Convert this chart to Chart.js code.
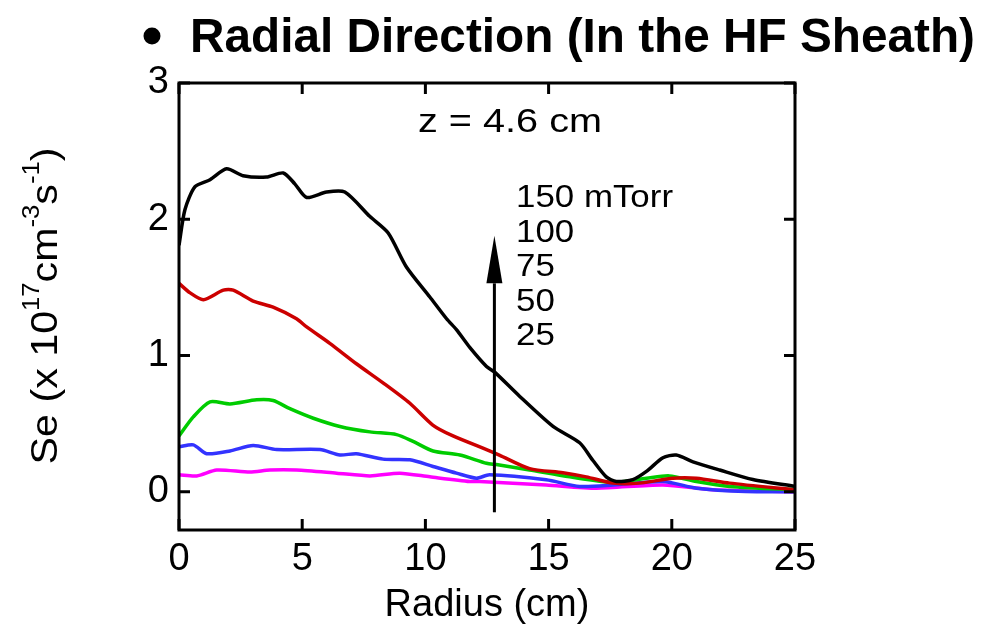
<!DOCTYPE html>
<html>
<head>
<meta charset="utf-8">
<script src="https://cdn.jsdelivr.net/npm/chart.js@4.4.1/dist/chart.umd.min.js"></script>
<style>
  html, body { margin: 0; padding: 0; background: #fff; }
  #wrap { width: 997px; height: 630px; position: relative; }
</style>
</head>
<body>
<div id="wrap"><canvas id="grafico"></canvas></div>
<script>
// radius (cm) and Se (x 1e17 cm^-3 s^-1), one pair per pressure
const r150 = [0, 0.24, 0.65, 1.26, 1.93, 2.6, 3.55, 4.23, 4.7, 5.18, 5.99, 6.73, 7.75, 8.49, 9.23, 10.18, 10.86, 11.26, 11.8, 12.48, 12.8, 13.83, 15.18, 16.26, 16.8, 17.34, 17.75, 18.42, 18.97, 19.64, 20.18, 20.86, 21.94, 23.29, 25];
const se150 = [1.81, 2.07, 2.24, 2.29, 2.37, 2.32, 2.31, 2.34, 2.26, 2.16, 2.20, 2.20, 2.02, 1.90, 1.65, 1.43, 1.27, 1.19, 1.06, 0.92, 0.88, 0.70, 0.48, 0.36, 0.23, 0.11, 0.076, 0.09, 0.15, 0.25, 0.27, 0.22, 0.16, 0.09, 0.04];

const r100 = [0, 0.45, 0.99, 1.8, 2.2, 3.01, 3.82, 4.77, 5.18, 6.12, 7.2, 8.28, 9.37, 10.3, 11.12, 12.48, 13.0, 14.23, 15.58, 16.53, 17.61, 18.69, 20.04, 21.0, 22.34, 25];
const se100 = [1.53, 1.46, 1.41, 1.48, 1.48, 1.40, 1.355, 1.27, 1.21, 1.09, 0.94, 0.80, 0.65, 0.49, 0.41, 0.31, 0.27, 0.17, 0.14, 0.11, 0.064, 0.064, 0.10, 0.10, 0.064, 0.015];

const r75 = [0, 0.58, 1.26, 2.07, 3.15, 3.82, 4.5, 5.45, 6.53, 7.75, 8.83, 9.5, 10.31, 11.4, 12.48, 12.88, 14.23, 15.86, 17.61, 18.97, 19.9, 21.0, 22.34, 24.37, 25];
const se75 = [0.41, 0.55, 0.66, 0.645, 0.675, 0.67, 0.61, 0.54, 0.48, 0.44, 0.42, 0.37, 0.30, 0.27, 0.21, 0.20, 0.16, 0.11, 0.07, 0.10, 0.117, 0.076, 0.04, 0.02, 0.02];

const r50 = [0, 0.58, 1.12, 2.07, 3.01, 3.96, 5.72, 6.53, 7.2, 8.28, 9.37, 10.31, 11.26, 12.07, 12.6, 14.9, 16.26, 17.61, 19.64, 21.0, 23.0, 25];
const se50 = [0.33, 0.345, 0.28, 0.30, 0.34, 0.31, 0.31, 0.27, 0.28, 0.24, 0.235, 0.186, 0.137, 0.10, 0.125, 0.088, 0.04, 0.05, 0.076, 0.027, 0.002, 0];

const r25 = [0, 0.72, 1.53, 2.88, 3.69, 4.77, 6.4, 7.75, 8.96, 10.18, 11.8, 12.2, 14.9, 16.94, 19.64, 21.67, 25];
const se25 = [0.125, 0.117, 0.16, 0.145, 0.16, 0.16, 0.137, 0.117, 0.137, 0.11, 0.076, 0.076, 0.05, 0.027, 0.05, 0.015, 0];

const presiones = ["150 mTorr", "100", "75", "50", "25"];
const xTicks = [0, 5, 10, 15, 20, 25];
const yTicks = [0, 1, 2, 3];

// arrow showing increasing pressure (data coords)
const flechaX = 12.8, flechaDesde = -0.15, flechaHasta = 1.88, flechaBase = 1.53;

function puntos(xs, ys) {
    let out = [];
    for (let i = 0; i < xs.length; i++) out.push({x: xs[i], y: ys[i]});
    return out;
}

function serie(xs, ys, color) {
    return {
        data: puntos(xs, ys),
        borderColor: color,
        borderWidth: 3.5,
        pointRadius: 0,
        tension: 0.25,
        fill: false
    };
}

const fuente = "'Liberation Sans', Arial, sans-serif";

// text stretched horizontally, like the original figure
function textoAncho(ctx, txt, x, y, estirar) {
    ctx.save();
    ctx.translate(x, y);
    ctx.scale(estirar, 1);
    ctx.fillText(txt, 0, 0);
    ctx.restore();
}

const decoracion = {
    id: "decoracion",
    afterDraw(chart) {
        const ctx = chart.ctx;
        const a = chart.chartArea;
        const sx = chart.scales.x, sy = chart.scales.y;
        ctx.save();

        // frame
        ctx.strokeStyle = "#000";
        ctx.lineWidth = 3;
        ctx.strokeRect(a.left, a.top, a.right - a.left, a.bottom - a.top);

        // inner ticks
        const tl = 11;
        ctx.beginPath();
        xTicks.forEach(function (v) {
            let px = sx.getPixelForValue(v);
            ctx.moveTo(px, a.bottom); ctx.lineTo(px, a.bottom - tl);
            ctx.moveTo(px, a.top); ctx.lineTo(px, a.top + tl);
        });
        yTicks.forEach(function (v) {
            let py = sy.getPixelForValue(v);
            ctx.moveTo(a.left, py); ctx.lineTo(a.left + tl, py);
            ctx.moveTo(a.right, py); ctx.lineTo(a.right - tl, py);
        });
        ctx.stroke();

        // arrow
        let ax = sx.getPixelForValue(flechaX);
        let y0 = sy.getPixelForValue(flechaDesde);
        let y1 = sy.getPixelForValue(flechaBase);
        let y2 = sy.getPixelForValue(flechaHasta);
        ctx.lineWidth = 3;
        ctx.beginPath();
        ctx.moveTo(ax, y0); ctx.lineTo(ax, y1);
        ctx.stroke();
        ctx.fillStyle = "#000";
        ctx.beginPath();
        ctx.moveTo(ax - 8, y1); ctx.lineTo(ax + 8, y1); ctx.lineTo(ax, y2);
        ctx.closePath();
        ctx.fill();

        ctx.fillStyle = "#000";
        ctx.textBaseline = "alphabetic";
        ctx.textAlign = "left";

        // z label
        ctx.font = "33px " + fuente;
        let zTxt = "z = 4.6 cm";
        textoAncho(ctx, zTxt, 418, 132, 184 / ctx.measureText(zTxt).width);

        // pressure labels
        ctx.font = "32px " + fuente;
        let k = 157 / ctx.measureText(presiones[0]).width;
        presiones.forEach(function (p, i) {
            textoAncho(ctx, p, 516, 207 + i * 34.5, k);
        });

        // title
        ctx.font = "bold 48px " + fuente;
        let titulo = "Radial Direction (In the HF Sheath)";
        textoAncho(ctx, titulo, 190, 52, 785 / ctx.measureText(titulo).width);
        ctx.beginPath();
        ctx.arc(152, 36, 8.5, 0, Math.PI * 2);
        ctx.fill();

        // y axis title with superscripts
        ctx.save();
        ctx.translate(57, 306);
        ctx.rotate(-Math.PI / 2);
        const partes = [["Se (x 10", false], ["17", true], ["cm", false], ["-3", true], ["s", false], ["-1", true], [")", false]];
        const fGrande = "37px " + fuente, fChica = "23px " + fuente;
        let total = 0;
        partes.forEach(function (p) {
            ctx.font = p[1] ? fChica : fGrande;
            total += ctx.measureText(p[0]).width;
        });
        let e = 317 / total;
        ctx.scale(e, 1);
        let pos = -total / 2;
        partes.forEach(function (p) {
            ctx.font = p[1] ? fChica : fGrande;
            ctx.fillText(p[0], pos, p[1] ? -18 : 0);
            pos += ctx.measureText(p[0]).width;
        });
        ctx.restore();

        ctx.restore();
    }
};

let ctx = document.getElementById("grafico");
new Chart(ctx, {
    type: "line",
    data: {
        datasets: [
            serie(r150, se150, "#000000"),
            serie(r100, se100, "#cc0000"),
            serie(r75, se75, "#00cc00"),
            serie(r50, se50, "#3333ff"),
            serie(r25, se25, "#ff00ff")
        ]
    },
    options: {
        responsive: true,
        maintainAspectRatio: false,
        animation: false,
        layout: { padding: { top: 83, right: 202, left: 0, bottom: 0 } },
        plugins: {
            legend: { display: false },
            tooltip: { enabled: false }
        },
        scales: {
            x: {
                type: "linear",
                min: 0,
                max: 25,
                afterBuildTicks: function (s) { s.ticks = xTicks.map(function (v) { return {value: v}; }); },
                afterFit: function (s) { s.height = 100; },
                grid: { display: false, drawTicks: false },
                border: { display: false },
                ticks: { color: "#000", font: { family: fuente, size: 38 }, padding: 7, maxRotation: 0 },
                title: {
                    display: true,
                    text: "Radius (cm)",
                    color: "#000",
                    font: { family: fuente, size: 38 },
                    padding: { top: 0, bottom: 2 }
                }
            },
            y: {
                type: "linear",
                min: -0.28,
                max: 3,
                afterBuildTicks: function (s) { s.ticks = yTicks.map(function (v) { return {value: v}; }); },
                afterFit: function (s) { s.width = 179; },
                grid: { display: false, drawTicks: false },
                border: { display: false },
                ticks: { color: "#000", font: { family: fuente, size: 38 }, padding: 10 }
            }
        }
    },
    plugins: [decoracion]
});
</script>
</body>
</html>
